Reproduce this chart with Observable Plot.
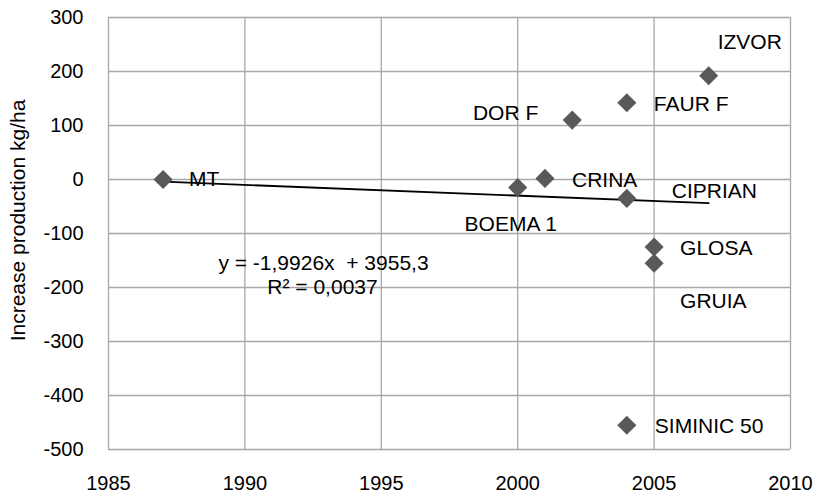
<!DOCTYPE html>
<html>
<head>
<meta charset="utf-8">
<script src="https://cdn.jsdelivr.net/npm/d3@7"></script>
<script src="https://cdn.jsdelivr.net/npm/@observablehq/plot@0.6"></script>
<style>
  html, body { margin: 0; padding: 0; background: #fff; }
</style>
</head>
<body>
<div id="chart"></div>
<script>
// ---- data ----
const varieties = ["MT", "BOEMA 1", "CRINA", "DOR F", "FAUR F", "CIPRIAN", "GLOSA", "GRUIA", "IZVOR", "SIMINIC 50"];
const years     = [1987, 2000, 2001, 2002, 2004, 2004, 2005, 2005, 2007, 2004];
const increase  = [0, -15, 2, 110, 142, -35, -125, -155, 192, -455];
const xTicks = [1985, 1990, 1995, 2000, 2005, 2010];
const yTicks = [-500, -400, -300, -200, -100, 0, 100, 200, 300];
const trendSlope = -1.9926;
const trendIntercept = 3955.3;
const trendR2 = 0.0037;
const yTitle = "Increase production kg/ha";

// ---- layout (label placement, pixel offsets) ----
const labelLayout = {
  "MT":         {anchor: "start",  dx: 26, dy: 0},
  "BOEMA 1":    {anchor: "middle", dx: -7, dy: 37},
  "CRINA":      {anchor: "start",  dx: 27, dy: 2},
  "DOR F":      {anchor: "end",    dx: -34, dy: -7},
  "FAUR F":     {anchor: "start",  dx: 27, dy: 1},
  "CIPRIAN":    {anchor: "start",  dx: 45, dy: -7},
  "GLOSA":      {anchor: "start",  dx: 26, dy: 1},
  "GRUIA":      {anchor: "start",  dx: 26, dy: 38},
  "IZVOR":      {anchor: "start",  dx: 9,  dy: -34},
  "SIMINIC 50": {anchor: "start",  dx: 28, dy: 1}
};

const points = varieties.map((name, i) => ({name, year: years[i], value: increase[i]}));
const x0 = d3.min(years), x1 = d3.max(years);
const trend = [x0, x1].map(x => ({year: x, value: trendSlope * x + trendIntercept}));
const fmt = (v, n) => v.toFixed(n).replace(".", ",");
const eqLine1 = `y = ${trendSlope < 0 ? "-" : ""}${fmt(Math.abs(trendSlope), 4)}x  + ${fmt(trendIntercept, 1)}`;
const eqLine2 = `R² = ${fmt(trendR2, 4)}`;

const gridColor = "#a8a8a8";
const font = "'Liberation Sans', Arial, sans-serif";

const labelMarks = points.map(d => Plot.text([d], {
  x: "year", y: "value", text: "name",
  textAnchor: labelLayout[d.name].anchor,
  dx: labelLayout[d.name].dx, dy: labelLayout[d.name].dy,
  fill: "#000", fontSize: 21
}));

const chart = Plot.plot({
  width: 815,
  height: 497,
  marginLeft: 108,
  marginRight: 25,
  marginTop: 17,
  marginBottom: 48,
  style: {fontFamily: font, fontSize: "20px", color: "#000", background: "#fff"},
  x: {domain: [1985, 2010], ticks: xTicks, tickFormat: d => String(d), tickSize: 0, tickPadding: 26, label: null},
  y: {domain: [-500, 300], ticks: yTicks, tickFormat: d => String(d), tickSize: 0, tickPadding: 25, label: null},
  marks: [
    Plot.ruleX(xTicks, {stroke: gridColor, strokeWidth: 1.3}),
    Plot.ruleY(yTicks, {stroke: gridColor, strokeWidth: 1.3}),
    Plot.line(trend, {x: "year", y: "value", stroke: "#000", strokeWidth: 1.8}),
    Plot.dot(points, {x: "year", y: "value", symbol: "diamond2", r: 8.6, fill: "#595959", stroke: "none"}),
    ...labelMarks,
    Plot.text([eqLine1], {frameAnchor: "top-left", dx: 215, dy: 238, text: d => d, textAnchor: "middle", fontSize: 21, fill: "#000"}),
    Plot.text([eqLine2], {frameAnchor: "top-left", dx: 214, dy: 262, text: d => d, textAnchor: "middle", fontSize: 21, fill: "#000"}),
    Plot.text([yTitle], {frameAnchor: "left", dx: -90, dy: -13, rotate: -90, text: d => d, textAnchor: "middle", fontSize: 21, fill: "#000"})
  ]
});
document.getElementById("chart").appendChild(chart);
</script>
</body>
</html>
